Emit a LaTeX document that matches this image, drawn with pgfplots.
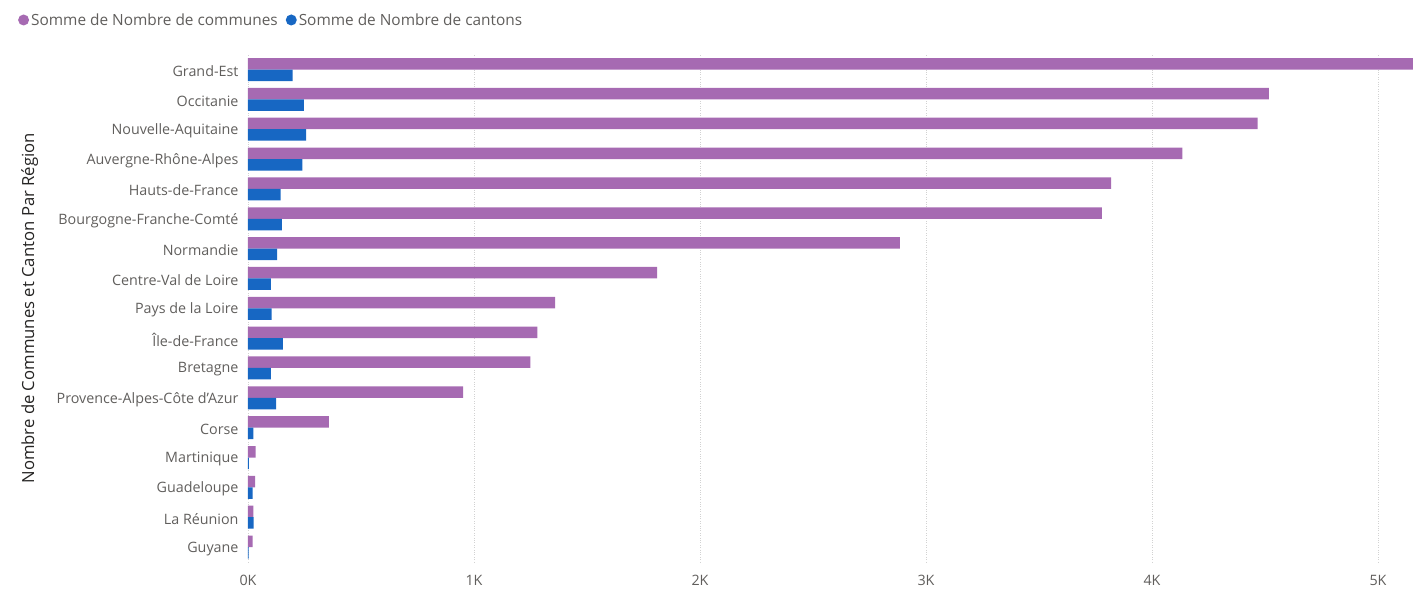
\documentclass[border=0pt]{standalone}
\usepackage{pgfplots}
\pgfplotsset{compat=1.18}
\usepackage{fontspec}
\setmainfont{Open Sans}
\definecolor{cpurple}{HTML}{A66AB2}
\definecolor{cblue}{HTML}{1767C3}
\definecolor{tickgray}{HTML}{605E5C}
\definecolor{labeldark}{HTML}{252423}
\begin{document}
\begin{tikzpicture}
\path[use as bounding box] (-248pt,-37pt) rectangle (1174pt,562pt);
\begin{axis}[
  scale only axis,
  width=1165pt, height=507.4pt,
  xbar, bar width=11.5pt,
  xmin=0, xmax=5155,
  ymin=-0.5, ymax=16.5,
  axis line style={draw=none},
  major tick length=0pt,
  xtick={0,1000,2000,3000,4000,5000},
  xticklabels={0K,1K,2K,3K,4K,5K},
  ytick={0,...,16},
  yticklabels={Guyane,La Réunion,Guadeloupe,Martinique,Corse,Provence-Alpes-Côte d'Azur,Bretagne,Île-de-France,Pays de la Loire,Centre-Val de Loire,Normandie,Bourgogne-Franche-Comté,Hauts-de-France,Auvergne-Rhône-Alpes,Nouvelle-Aquitaine,Occitanie,Grand-Est},
  xmajorgrids, grid style={gray!35, dotted, line width=0.8pt},
  tick label style={font=\fontsize{14.3}{16}\selectfont, text=tickgray},
  /pgf/number format/assume math mode=true,
  yticklabel style={xshift=-6pt, yshift=-1.5pt},
  xticklabel style={yshift=-10pt},
  ylabel={Nombre de Communes et Canton Par Région},
  ylabel style={font=\fontsize{16.7}{19}\selectfont, text=labeldark, at={(axis description cs:-0.177,0.5)}, anchor=south},
  legend columns=2,
  legend style={draw=none, fill=none, at={(-0.1975,1.0682)}, anchor=west, font=\fontsize{15.4}{18}\selectfont, text=tickgray, inner sep=0pt, /tikz/every even column/.append style={column sep=6pt}},
]
\addplot[fill=cpurple, draw=none, bar shift=5.75pt, legend image code/.code={\fill[cpurple] (0pt,0pt) circle (5.5pt);}] coordinates {
(21,0) (24,1) (32,2) (34,3) (358,4) (952,5) (1249,6) (1280,7) (1359,8) (1810,9) (2884,10) (3778,11) (3819,12) (4134,13) (4467,14) (4517,15) (5154,16)};
\addplot[fill=cblue, draw=none, bar shift=-5.75pt, legend image code/.code={\fill[cblue] (0pt,0pt) circle (5.5pt);}] coordinates {
(3,0) (25,1) (21,2) (4,3) (24,4) (125,5) (101,6) (154,7) (105,8) (101,9) (129,10) (150,11) (144,12) (241,13) (257,14) (247,15) (198,16)};
\legend{Somme de Nombre de communes,Somme de Nombre de cantons}
\end{axis}
\end{tikzpicture}
\end{document}
